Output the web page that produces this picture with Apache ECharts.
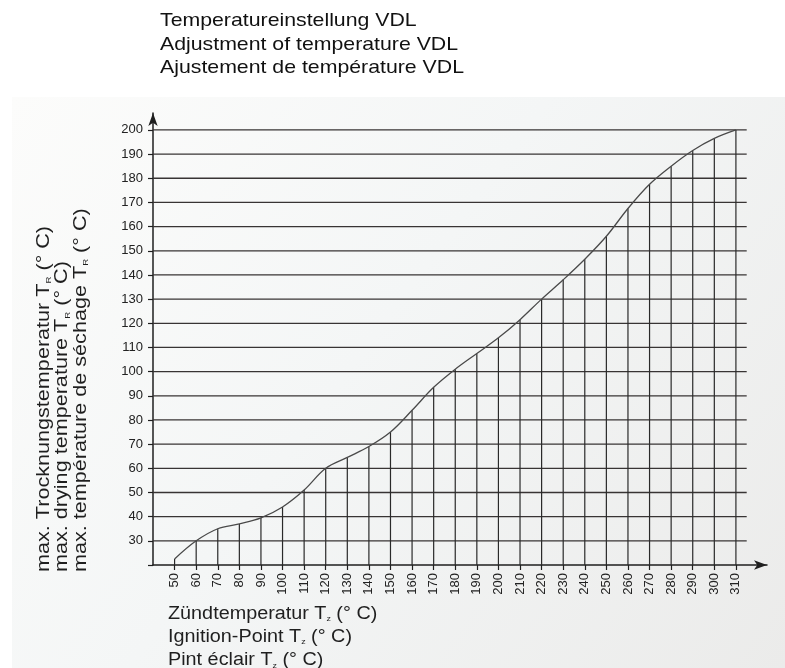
<!DOCTYPE html>
<html>
<head>
<meta charset="utf-8">
<script src="https://cdn.jsdelivr.net/npm/echarts@6/dist/echarts.min.js"></script>
<style>
  html, body { margin: 0; padding: 0; background: #ffffff; }
  #chart { width: 785px; height: 668px; }
</style>
</head>
<body>
<div id="chart"></div>
<script>
// Ignition point Tz (°C) and the matching max. drying temperature TR (°C)
const ignitionPoints = [50, 60, 70, 80, 90, 100, 110, 120, 130, 140, 150, 160, 170, 180,
  190, 200, 210, 220, 230, 240, 250, 260, 270, 280, 290, 300, 310];
const dryingTemps = [22.5, 30, 35, 37, 39.5, 44, 51, 60, 64.5, 69, 75, 84, 93.5, 101,
  107.5, 114, 121.5, 130, 138, 146.5, 156, 167.5, 177.5, 185, 191.5, 196.5, 200];

// Axis tick labels
const xTickLabels = [50, 60, 70, 80, 90, 100, 110, 120, 130, 140, 150, 160, 170, 180,
  190, 200, 210, 220, 230, 240, 250, 260, 270, 280, 290, 300, 310];
const yTickLabels = [30, 40, 50, 60, 70, 80, 90, 100, 110, 120, 130, 140, 150, 160,
  170, 180, 190, 200];
const yTickMarks = [20].concat(yTickLabels);

// Texts
const titleLines = [
  'Temperatureinstellung VDL',
  'Adjustment of temperature VDL',
  'Ajustement de température VDL'
];
const yNameLines = [
  ['max. Trocknungstemperatur T', 'R', ' (° C)'],
  ['max. drying temperature T', 'R', ' (° C)'],
  ['max. température de séchage T', 'R', ' (° C)']
];
const xNameLines = [
  ['Zündtemperatur T', 'z', ' (° C)'],
  ['Ignition-Point T', 'z', ' (° C)'],
  ['Pint éclair T', 'z', ' (° C)']
];

const X_MIN = 40, X_MAX = 324.4, GRID_X_END = 315;
const Y_MIN = 20, Y_MAX = 207;

const FONT = '"Liberation Sans", Arial, Helvetica, sans-serif';
const INK = '#1f1f1f';

const chart = echarts.init(document.getElementById('chart'), null, { renderer: 'canvas' });

function subText(parts, size) {
  return {
    text: '{n|' + parts[0] + '}{s|' + parts[1] + '}{n|' + parts[2] + '}',
    rich: {
      n: { fontSize: size, fontFamily: FONT, fill: INK },
      s: { fontSize: Math.round(size * 0.45), fontFamily: FONT, fill: INK, verticalAlign: 'bottom' }
    }
  };
}

const graphics = [
  {
    type: 'rect', z: -10, silent: true,
    shape: { x: 12, y: 97, width: 773, height: 571 },
    style: {
      fill: new echarts.graphic.LinearGradient(0, 0, 1, 1, [
        { offset: 0, color: '#fcfcfb' },
        { offset: 0.45, color: '#f4f6f6' },
        { offset: 1, color: '#ebebea' }
      ])
    }
  }
];

titleLines.forEach(function (t, i) {
  graphics.push({
    type: 'text', x: 160, y: 21 + i * 23.5, scaleX: 1.12,
    style: { text: t, fontSize: 19, fontFamily: FONT, fill: '#111', align: 'left', verticalAlign: 'middle' }
  });
});

xNameLines.forEach(function (parts, i) {
  const st = subText(parts, 18);
  graphics.push({
    type: 'text', x: 168, y: 613.7 + i * 23.4, scaleX: 1.1,
    style: Object.assign(st, { align: 'left', verticalAlign: 'middle' })
  });
});

yNameLines.forEach(function (parts, i) {
  const st = subText(parts, 18);
  graphics.push({
    type: 'text', x: 44 + i * 18.5, y: 572, rotation: Math.PI / 2, scaleX: 1.2,
    style: Object.assign(st, { align: 'left', verticalAlign: 'middle' })
  });
});

const option = {
  backgroundColor: '#ffffff',
  animation: false,
  grid: { left: 153, right: 18, top: 113, bottom: 103 },
  graphic: graphics,
  xAxis: {
    type: 'value', min: X_MIN, max: X_MAX, interval: 10,
    splitLine: { show: false },
    axisLine: {
      show: true, onZero: false,
      symbol: ['none', 'arrow'], symbolSize: [7, 13],
      lineStyle: { color: INK, width: 1.5 }
    },
    axisTick: { show: true, customValues: xTickLabels, length: 5, lineStyle: { color: INK, width: 1.2 } },
    axisLabel: {
      customValues: xTickLabels, rotate: 90, margin: 8,
      fontSize: 13, fontFamily: FONT, color: '#222'
    }
  },
  yAxis: {
    type: 'value', min: Y_MIN, max: Y_MAX, interval: 10,
    splitLine: { show: false },
    axisLine: {
      show: true, onZero: false,
      symbol: ['none', 'arrow'], symbolSize: [7, 13],
      lineStyle: { color: INK, width: 1.5 }
    },
    axisTick: { show: true, customValues: yTickMarks, length: 5, lineStyle: { color: INK, width: 1.2 } },
    axisLabel: {
      customValues: yTickLabels, margin: 10,
      fontSize: 13, fontFamily: FONT, color: '#222'
    }
  },
  series: [
    {
      // horizontal grid lines at each labelled temperature
      type: 'custom', z: 1, silent: true,
      data: yTickLabels.map(function (v) { return [X_MIN, v]; }),
      renderItem: function (params, api) {
        const v = api.value(1);
        const a = api.coord([X_MIN, v]);
        const b = api.coord([GRID_X_END, v]);
        return {
          type: 'line',
          shape: { x1: a[0], y1: a[1], x2: b[0], y2: b[1] },
          style: { stroke: '#383434', lineWidth: 1.3 }
        };
      }
    },
    {
      // vertical drop lines from the axis up to the curve
      type: 'custom', z: 2, silent: true,
      data: ignitionPoints.map(function (x, i) { return [x, dryingTemps[i]]; }),
      renderItem: function (params, api) {
        const x = api.value(0);
        const a = api.coord([x, Y_MIN]);
        const b = api.coord([x, api.value(1)]);
        return {
          type: 'line',
          shape: { x1: a[0], y1: a[1], x2: b[0], y2: b[1] },
          style: { stroke: '#2a2a2a', lineWidth: 1.2 }
        };
      }
    },
    {
      type: 'line', z: 3, silent: true,
      data: ignitionPoints.map(function (x, i) { return [x, dryingTemps[i]]; }),
      smooth: 0.35, showSymbol: false,
      lineStyle: { color: '#4a4a4a', width: 1.3 }
    }
  ]
};

chart.setOption(option);
</script>
</body>
</html>
